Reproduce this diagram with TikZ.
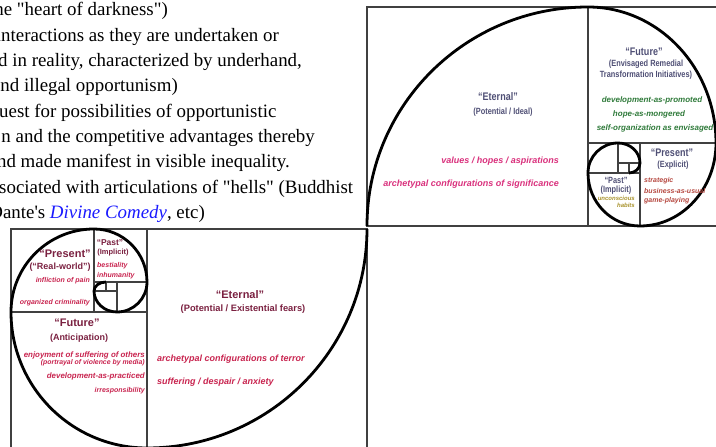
\documentclass[tikz,border=0pt]{standalone}
\usepackage{fontspec}
\setmainfont{Liberation Serif}[Ligatures=TeXOff]
\newfontfamily\dgfont{Liberation Sans}
\newfontfamily\dgnarrow{Liberation Sans}[FakeStretch=0.82]
\definecolor{slate}{HTML}{4F4F75}
\definecolor{pinkish}{HTML}{D9307C}
\definecolor{leaf}{HTML}{2F7A3A}
\definecolor{rust}{HTML}{B5473F}
\definecolor{olive}{HTML}{A8922C}
\definecolor{maroon}{HTML}{7A2040}
\definecolor{crimson}{HTML}{C8244F}
\definecolor{linkblue}{HTML}{1A1AFF}

\begin{document}
\begin{tikzpicture}[x=1pt,y=1pt,
  box/.style={draw=black!75,line width=1.3pt},
  spiral/.style={draw=black,line width=2.8pt},
  prose/.style={font=\fontsize{18.9}{18.9}\selectfont,anchor=base east,inner sep=0pt},
  head/.style={font=\dgnarrow\bfseries\fontsize{11}{11}\selectfont,inner sep=0pt},
  sub/.style={font=\dgnarrow\bfseries\fontsize{9}{11}\selectfont,inner sep=0pt,align=center},
  item/.style={font=\dgfont\bfseries\itshape\fontsize{7}{8}\selectfont,inner sep=0pt},
  bighead/.style={font=\dgfont\bfseries\fontsize{11}{11}\selectfont,inner sep=0pt,text=maroon},
  bigsub/.style={font=\dgfont\bfseries\fontsize{9}{9}\selectfont,inner sep=0pt,text=maroon}]
\useasboundingbox (0,0) rectangle (716,447);
\clip (0,0) rectangle (716,447);

\node[prose] (p1) at (168,431) {the "heart of darkness")};
\node[prose] (p2) at (279,405.7) {interactions as they are undertaken or};
\node[prose,anchor=base west] (p3) at (-2,380.4) {d in reality, characterized by underhand,};
\node[prose] (p4) at (178,355.1) {and illegal opportunism)};
\node[prose,anchor=base west] (p5) at (-1,329.8) {uest for possibilities of opportunistic};
\node[prose] (p6) at (315,304.5) {n and the competitive advantages thereby};
\node[prose] (p7) at (290,279.2) {and made manifest in visible inequality.};
\node[prose,anchor=base west] (p8) at (-1,253.9) {sociated with articulations of "hells" (Buddhist};
\node[prose] (p9) at (205,228.6) {Dante's \textcolor{linkblue}{\itshape Divine Comedy}, etc)};

\draw[box] (367,221) rectangle (720,440);
\draw[box] (588,221)--(588,440);
\draw[box] (588,304)--(720,304);
\draw[box] (640,221)--(640,304);
\draw[box] (588,274)--(640,274);
\draw[box] (618,274)--(618,304);
\draw[box] (618,284)--(640,284);
\draw[box] (629,274)--(629,284);
\draw[spiral] (367,221) arc[start angle=180,end angle=90,x radius=221,y radius=219]
  arc[start angle=90,end angle=0,x radius=128,y radius=136]
  arc[start angle=0,end angle=-90,x radius=76,y radius=83]
  arc[start angle=-90,end angle=-180,x radius=52,y radius=53]
  arc[start angle=180,end angle=90,x radius=30,y radius=30]
  arc[start angle=90,end angle=0,x radius=22,y radius=20]
  arc[start angle=0,end angle=-90,x radius=11,y radius=10];

\node[head,text=slate] (eternalT) at (498,350) {“Eternal”};
\node[sub,text=slate] (eternalTsub) at (503,335) {(Potential / Ideal)};
\node[item,text=pinkish,anchor=east,font=\dgfont\bfseries\itshape\fontsize{9}{9}\selectfont] (valuesT) at (559,286) {values / hopes / aspirations};
\node[item,text=pinkish,anchor=east,font=\dgfont\bfseries\itshape\fontsize{9}{9}\selectfont] (archT) at (559,263) {archetypal configurations of significance};
\node[head,text=slate] (futureT) at (644,395) {“Future”};
\node[sub,text=slate] (futureTsub) at (646,377) {(Envisaged Remedial\\Transformation Initiatives)};
\node[item,text=leaf,font=\dgfont\bfseries\itshape\fontsize{8}{8}\selectfont] (promotedT) at (652,347) {development-as-promoted};
\node[item,text=leaf,font=\dgfont\bfseries\itshape\fontsize{8}{8}\selectfont] (mongeredT) at (649,333) {hope-as-mongered};
\node[item,text=leaf,font=\dgfont\bfseries\itshape\fontsize{8}{8}\selectfont] (envisagedT) at (655,319) {self-organization as envisaged};
\node[head,text=slate] (presentT) at (672,294) {“Present”};
\node[sub,text=slate] (presentTsub) at (673,282) {(Explicit)};
\node[item,text=rust,anchor=west] (strategicT) at (644,266) {strategic};
\node[item,text=rust,anchor=west] (usualT) at (644,256) {business-as-usual};
\node[item,text=rust,anchor=west] (gameT) at (644,246) {game-playing};
\node[sub,text=slate,font=\dgnarrow\bfseries\fontsize{9}{8.5}\selectfont] (pastT) at (616,261) {“Past”\\(Implicit)};
\node[item,text=olive,anchor=north east,align=right,font=\dgfont\bfseries\itshape\fontsize{6}{7}\selectfont] (habitsT) at (635,251) {unconscious\\habits};

\draw[box] (11,-5) rectangle (367,218);
\draw[box] (147,-5)--(147,218);
\draw[box] (11,135)--(147,135);
\draw[box] (94,135)--(94,218);
\draw[box] (94,165)--(147,165);
\draw[box] (117,135)--(117,165);
\draw[box] (94,156)--(117,156);
\draw[box] (106,156)--(106,165);
\draw[spiral] (367,218) arc[start angle=0,end angle=-90,x radius=220,y radius=219]
  arc[start angle=-90,end angle=-180,x radius=136,y radius=136]
  arc[start angle=180,end angle=90,x radius=83,y radius=83]
  arc[start angle=90,end angle=0,x radius=53,y radius=53]
  arc[start angle=0,end angle=-90,x radius=30,y radius=30]
  arc[start angle=-90,end angle=-180,x radius=23,y radius=21]
  arc[start angle=180,end angle=90,x radius=12,y radius=9];

\node[bighead] (presentB) at (65,193) {“Present”};
\node[bigsub] (realB) at (60,180) {(“Real-world”)};
\node[item,text=crimson,anchor=east] (painB) at (90,166) {infliction of pain};
\node[item,text=crimson,anchor=east] (crimeB) at (90,144) {organized criminality};
\node[bigsub,font=\dgfont\bfseries\fontsize{8.5}{8.5}\selectfont] (pastB) at (110,204) {“Past”};
\node[bigsub,font=\dgfont\bfseries\fontsize{7.5}{7.5}\selectfont] (implicitB) at (113,194) {(Implicit)};
\node[item,text=crimson,anchor=west] (bestialB) at (97,181) {bestiality};
\node[item,text=crimson,anchor=west] (inhumanB) at (97,171) {inhumanity};
\node[bighead] (futureB) at (77,124) {“Future”};
\node[bigsub] (anticB) at (79,109) {(Anticipation)};
\node[item,text=crimson,anchor=east,font=\dgfont\bfseries\itshape\fontsize{7.9}{8}\selectfont] (enjoyB) at (145,92) {enjoyment of suffering of others};
\node[item,text=crimson,anchor=east,font=\dgfont\bfseries\itshape\fontsize{6.9}{7}\selectfont] (mediaB) at (145,84.5) {(portrayal of violence by media)};
\node[item,text=crimson,anchor=east,font=\dgfont\bfseries\itshape\fontsize{7.9}{8}\selectfont] (practicedB) at (145,71) {development-as-practiced};
\node[item,text=crimson,anchor=east] (irrespB) at (145,56) {irresponsibility};
\node[bighead] (eternalB) at (240,152) {“Eternal”};
\node[bigsub,font=\dgfont\bfseries\fontsize{9.3}{9.3}\selectfont] (fearsB) at (243,138) {(Potential / Existential fears)};
\node[item,text=crimson,anchor=west,font=\dgfont\bfseries\itshape\fontsize{9}{9}\selectfont] (terrorB) at (157,88) {archetypal configurations of terror};
\node[item,text=crimson,anchor=west,font=\dgfont\bfseries\itshape\fontsize{9}{9}\selectfont] (despairB) at (157,65) {suffering / despair / anxiety};
\end{tikzpicture}
\end{document}
